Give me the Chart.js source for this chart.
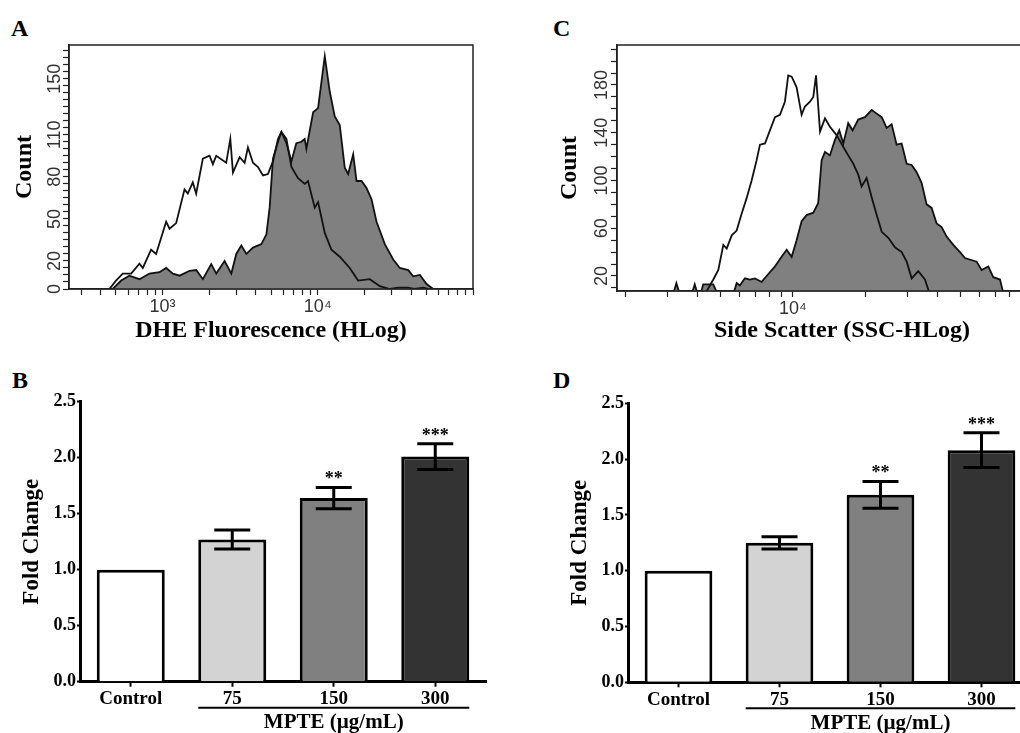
<!DOCTYPE html>
<html>
<head>
<meta charset="utf-8">
<script src="https://cdn.jsdelivr.net/npm/chart.js@4.4.1/dist/chart.umd.min.js"></script>
<style>
  html, body { margin: 0; padding: 0; background: #fff; width: 1020px; height: 733px; overflow: hidden; position: relative; }
  .panel { position: absolute; }
  .letter { position: absolute; font: bold 24px "Liberation Serif", serif; line-height: 24px; color: #000; }
</style>
</head>
<body>
<div class="letter" style="left:11px;top:16px">A</div>
<div class="letter" style="left:12px;top:368px">B</div>
<div class="letter" style="left:553px;top:16px">C</div>
<div class="letter" style="left:553px;top:368px">D</div>

<div class="panel" style="left:0;top:0;width:500px;height:346px"><canvas id="chartA"></canvas></div>
<div class="panel" style="left:540px;top:0;width:560px;height:346px"><canvas id="chartC"></canvas></div>
<div class="panel" style="left:0;top:360px;width:500px;height:373px"><canvas id="chartB"></canvas></div>
<div class="panel" style="left:540px;top:360px;width:500px;height:373px"><canvas id="chartD"></canvas></div>

<script>
// ---- Panel A: DHE fluorescence histogram (control = open, MPTE = filled)
const dheControlX = [250, 455, 502, 555, 628, 711, 747, 845, 910, 1056, 1110, 1225, 1386, 1456, 1568, 1648, 1820, 2010, 2112, 2220, 2574, 2735, 2844, 3141, 3382, 3552, 3827, 4123, 4441, 4780, 5147, 5546, 5834, 6285, 6767, 7465, 8245, 8656, 9567, 10050, 11100, 12250, 13860, 16080, 18200, 21640, 25120, 29150, 33000, 38000, 42000, 48000, 52000, 100000];
const dheControlY = [0, 0, 6, 11, 11, 18, 15, 28, 25, 48, 43, 47, 71, 68, 76, 68, 93, 95, 89, 95, 90, 107, 83, 94, 90, 101, 90, 87, 81, 82, 91, 107, 112, 107, 87, 79, 75, 77, 58, 62, 40, 28, 23, 15, 6, 7, 2, 0, 1, 1, 0, 1, 0, 0];
const dheTreatedX = [250, 478, 542, 612, 711, 824, 957, 1056, 1167, 1290, 1494, 1650, 1820, 2061, 2220, 2512, 2775, 2988, 3220, 3470, 3827, 4335, 4670, 4900, 5147, 5546, 5834, 6285, 6767, 7278, 7840, 8245, 8450, 9340, 10050, 11100, 11940, 12870, 13860, 14930, 15700, 16920, 17780, 19150, 20620, 22200, 23920, 27040, 30620, 33800, 38280, 41210, 45520, 50230, 55460, 100000];
const dheTreatedY = [0, 0, 6, 9.5, 7, 11, 12, 15, 11, 9.5, 13, 13.5, 7, 17.7, 11, 20, 11, 25, 31, 25, 29.5, 32, 39, 58, 93, 105, 112, 104, 91, 104, 105, 107, 100, 126, 129, 166, 141, 123, 117, 86.5, 82, 96, 77, 77, 72, 64, 48, 32, 21, 15, 13.5, 9, 10, 3.5, 0, 0];
const dheYLabels = [0, 20, 50, 80, 110, 150];

// ---- Panel C: side scatter histogram
const sscControlX = [1850, 4170, 4660, 4890, 5130, 5300, 5560, 5830, 6110, 6410, 6730, 7060, 7290, 7650, 8020, 8420, 8830, 9260, 9560, 9880, 10360, 10870, 11220, 11780, 12160, 12480, 12970, 13600, 14260, 15200, 16220, 17000, 17840, 18710, 19320, 20280, 21280, 22340, 23440, 24960, 26610, 28380, 29780, 31240, 33270, 35480, 37830, 140000];
const sscControlY = [0, 0, 17, 25, 46, 43, 54, 58, 72, 85, 100, 117, 130, 131, 142, 153, 155, 166, 188, 187, 178, 155, 162, 166, 170, 188, 141, 152, 145, 138, 128, 121, 114, 105, 95, 102, 86, 71, 57, 52, 44, 40, 32, 18, 24, 17, 0, 0];
const sscTreatedX = [1850, 3120, 3270, 3435, 3720, 3900, 4070, 4230, 4660, 4970, 5560, 5830, 6010, 6310, 6610, 6950, 7410, 7770, 8420, 8970, 9420, 9880, 10360, 10870, 11400, 12160, 12740, 13170, 13600, 14260, 14960, 15600, 16220, 17000, 17730, 18710, 19950, 21280, 22340, 23440, 24570, 25780, 27040, 28380, 29780, 31240, 32760, 34370, 36060, 37830, 39690, 41640, 43680, 46570, 49650, 52090, 58240, 61090, 65150, 68330, 72890, 76440, 140000];
const sscTreatedY = [0, 0, 14, 0, 0, 13, 0, 13, 13, 0, 0, 14, 12, 18, 17, 18, 15, 20, 28, 36, 42, 36, 50, 66, 71, 73, 81, 117, 124, 121, 134, 142, 131, 148, 142, 151, 153, 159, 156, 153, 144, 147, 130, 131, 114, 113, 107, 98, 80, 77, 64, 61, 53, 46, 40, 35, 32, 25, 28, 19, 17, 0, 0];
const sscYLabels = [20, 60, 100, 140, 180];

const logMantissas = [1, 2, 3, 4, 5, 6, 7, 8, 9];
const decadeLabels = { 1000: '10³', 10000: '10⁴' };

// ---- Panels B and D: fold change bars
const groupLabels = ['Control', '75', '150', '300'];
const barColors = ['#ffffff', '#d3d3d3', '#808080', '#333333'];
const dheFold = [1.0, 1.27, 1.64, 2.01];
const dheFoldErr = [0, 0.085, 0.095, 0.115];
const sscFold = [1.0, 1.25, 1.68, 2.08];
const sscFoldErr = [0, 0.055, 0.12, 0.155];
const sigStars = ['', '', '**', '***'];

function pts(xs, ys) {
    return xs.map((x, i) => ({ x: x, y: ys[i] }));
}

function logTicks(min, max) {
    const out = [];
    for (let e = Math.floor(Math.log10(min)); e <= Math.ceil(Math.log10(max)); e++) {
        logMantissas.forEach(m => {
            const v = m * Math.pow(10, e);
            if (v >= min && v <= max) out.push(v);
        });
    }
    return out;
}

function histogram(id, cfg) {
    const serif = { family: 'Liberation Serif', size: 24, weight: 'bold' };
    return new Chart(document.getElementById(id), {
        type: 'line',
        data: {
            datasets: [
                { data: pts(cfg.ctrlX, cfg.ctrlY), borderColor: '#111', borderWidth: 1.8, fill: false, pointRadius: 0, tension: 0 },
                { data: pts(cfg.trtX, cfg.trtY), borderColor: '#111', borderWidth: 1.8, backgroundColor: '#808080', fill: 'start', pointRadius: 0, tension: 0 }
            ]
        },
        options: {
            responsive: true, maintainAspectRatio: false, animation: false, devicePixelRatio: 1,
            layout: { padding: { top: 45, right: cfg.padRight, left: 0, bottom: 1 } },
            plugins: { legend: { display: false }, tooltip: { enabled: false } },
            scales: {
                x: {
                    type: 'logarithmic', min: cfg.xMin, max: cfg.xMax,
                    afterBuildTicks: s => { s.ticks = logTicks(cfg.xMin, cfg.xMax).map(v => ({ value: v })); },
                    afterFit: s => { s.height = cfg.xAxisH; },
                    grid: { drawOnChartArea: false, tickLength: 6, tickColor: '#222', tickWidth: 1.2 },
                    border: { display: true, color: '#222', width: 1.5 },
                    ticks: { autoSkip: false, maxRotation: 0, minRotation: 0, padding: 1, color: '#333',
                        font: { family: 'Liberation Sans', size: 18 },
                        callback: v => decadeLabels[v] || '' },
                    title: { display: true, text: cfg.xTitle, color: '#000', font: serif, padding: { top: 0, bottom: 0 } }
                },
                y: {
                    min: cfg.yMin, max: cfg.yMax,
                    afterBuildTicks: s => {
                        const t = [];
                        for (let v = Math.ceil(cfg.yMin / cfg.yStep) * cfg.yStep; v <= cfg.yMax; v += cfg.yStep) t.push({ value: v });
                        s.ticks = t;
                    },
                    afterFit: s => { s.width = cfg.yAxisW; },
                    grid: { drawOnChartArea: false, tickLength: 6, tickColor: '#222', tickWidth: 1.2 },
                    border: { display: true, color: '#222', width: 1.5 },
                    ticks: { autoSkip: false, callback: () => '' },
                    title: { display: true, text: 'Count', color: '#000', font: serif, padding: { top: cfg.yTitlePad, bottom: 0 } }
                }
            }
        },
        plugins: [{
            id: 'histDecor',
            afterDraw(chart) {
                const ctx = chart.ctx, a = chart.chartArea, ys = chart.scales.y;
                ctx.save();
                ctx.strokeStyle = '#222';
                ctx.lineWidth = 1.5;
                ctx.strokeRect(a.left, a.top, a.right - a.left, a.bottom - a.top);
                // rotated count labels
                ctx.fillStyle = '#333';
                ctx.font = '18px "Liberation Sans"';
                ctx.textAlign = 'center';
                ctx.textBaseline = 'middle';
                cfg.yLabels.forEach(v => {
                    ctx.save();
                    ctx.translate(cfg.yLabelX, ys.getPixelForValue(v));
                    ctx.rotate(-Math.PI / 2);
                    ctx.fillText(String(v), 0, 0);
                    ctx.restore();
                });
                ctx.restore();
            }
        }]
    });
}

function barPanel(id, cfg) {
    return new Chart(document.getElementById(id), {
        type: 'bar',
        data: {
            labels: groupLabels,
            datasets: [{
                data: cfg.values, backgroundColor: barColors, borderColor: '#000', borderWidth: 3,
                barPercentage: 0.67, categoryPercentage: 1
            }]
        },
        options: {
            responsive: true, maintainAspectRatio: false, animation: false, devicePixelRatio: 1,
            layout: { padding: { top: cfg.padTop, right: cfg.padRight, left: 0, bottom: 0 } },
            plugins: { legend: { display: false }, tooltip: { enabled: false } },
            scales: {
                x: {
                    afterFit: s => { s.height = cfg.xAxisH; },
                    grid: { offset: false, drawOnChartArea: false, tickLength: 5, tickColor: '#000', tickWidth: 2 },
                    border: { display: true, color: '#000', width: 3 },
                    ticks: { padding: 1, color: '#000', maxRotation: 0, font: { family: 'Liberation Serif', size: 19, weight: 'bold' } }
                },
                y: {
                    min: 0, max: 2.5,
                    afterFit: s => { s.width = cfg.yAxisW; },
                    grid: { drawOnChartArea: false, tickLength: 3, tickColor: '#000', tickWidth: 2 },
                    border: { display: true, color: '#000', width: 3 },
                    ticks: { stepSize: 0.5, padding: 1, color: '#000', callback: v => v.toFixed(1),
                        font: { family: 'Liberation Serif', size: 18, weight: 'bold' } },
                    title: { display: true, text: 'Fold Change', color: '#000',
                        font: { family: 'Liberation Serif', size: 23, weight: 'bold' }, padding: { top: cfg.yTitlePad, bottom: 0 } }
                }
            }
        },
        plugins: [{
            id: 'errorBars',
            afterDatasetsDraw(chart) {
                const ctx = chart.ctx, ys = chart.scales.y, a = chart.chartArea;
                const bars = chart.getDatasetMeta(0).data;
                ctx.save();
                ctx.strokeStyle = '#000';
                ctx.fillStyle = '#000';
                ctx.lineWidth = 3;
                bars.forEach((bar, i) => {
                    const e = cfg.errors[i];
                    if (!e) return;
                    const yT = ys.getPixelForValue(cfg.values[i] + e);
                    const yB = ys.getPixelForValue(cfg.values[i] - e);
                    ctx.beginPath();
                    ctx.moveTo(bar.x, yT); ctx.lineTo(bar.x, yB);
                    ctx.moveTo(bar.x - 18, yT); ctx.lineTo(bar.x + 18, yT);
                    ctx.moveTo(bar.x - 18, yB); ctx.lineTo(bar.x + 18, yB);
                    ctx.stroke();
                    if (sigStars[i]) {
                        ctx.font = 'bold 18px "Liberation Serif"';
                        ctx.textAlign = 'center';
                        ctx.textBaseline = 'alphabetic';
                        ctx.fillText(sigStars[i], bar.x, yT - 3);
                    }
                });
                // bracket line under dose groups and its label
                const b1 = bars[1], b3 = bars[3];
                const lineY = a.bottom + 26;
                ctx.lineWidth = 2;
                ctx.beginPath();
                ctx.moveTo(b1.x - b1.width / 2, lineY);
                ctx.lineTo(b3.x + b3.width / 2, lineY);
                ctx.stroke();
                ctx.font = 'bold 21px "Liberation Serif"';
                ctx.textAlign = 'center';
                ctx.textBaseline = 'middle';
                ctx.fillText('MPTE (µg/mL)', (b1.x - b1.width / 2 + b3.x + b3.width / 2) / 2, a.bottom + 41);
                ctx.restore();
            }
        }]
    });
}

histogram('chartA', {
    ctrlX: dheControlX, ctrlY: dheControlY, trtX: dheTreatedX, trtY: dheTreatedY,
    xMin: 250, xMax: 100000, yMin: 0, yMax: 174, yStep: 5, yLabels: dheYLabels,
    xTitle: 'DHE Fluorescence (HLog)', padRight: 27, xAxisH: 56, yAxisW: 69, yTitlePad: 10.5, yLabelX: 55
});

histogram('chartC', {
    ctrlX: sscControlX, ctrlY: sscControlY, trtX: sscTreatedX, trtY: sscTreatedY,
    xMin: 1850, xMax: 138600, yMin: 7.4, yMax: 213.5, yStep: 10, yLabels: sscYLabels,
    xTitle: 'Side Scatter (SSC-HLog)', padRight: 33, xAxisH: 54, yAxisW: 77, yTitlePad: 15.6, yLabelX: 62
});

barPanel('chartB', {
    values: dheFold, errors: dheFoldErr,
    padTop: 41.7, padRight: 14, xAxisH: 51.3, yAxisW: 80, yTitlePad: 18
});

barPanel('chartD', {
    values: sscFold, errors: sscFoldErr,
    padTop: 43.3, padRight: 8, xAxisH: 50.7, yAxisW: 88, yTitlePad: 26
});
</script>
</body>
</html>
